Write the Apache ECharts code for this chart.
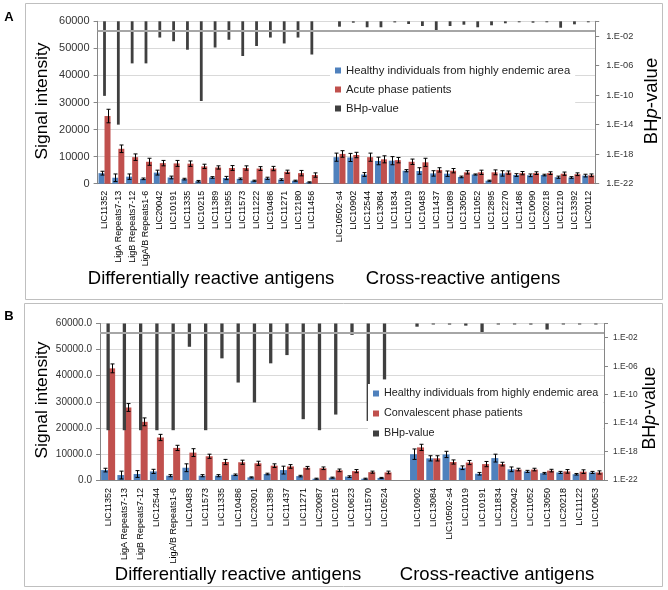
<!DOCTYPE html>
<html><head><meta charset="utf-8">
<script src="https://cdn.jsdelivr.net/npm/echarts@6/dist/echarts.min.js"></script>
<style>html,body{margin:0;padding:0;background:#fff}#c{width:668px;height:590px}</style>
</head><body><div id="c"></div>
<script>
// ---------- Panel A data ----------
const aCategories = ['LIC11352','LigA Repeats7-13','LigB Repeats7-12','LigA/B Repeats1-6','LIC20042','LIC10191','LIC11335','LIC10215','LIC11389','LIC11955','LIC11573','LIC11222','LIC10486','LIC11271','LIC12180','LIC11456','',
  'LIC10502-s4','LIC10902','LIC12544','LIC13084','LIC11834','LIC11019','LIC10483','LIC11437','LIC11089','LIC13050','LIC11052','LIC12895','LIC12270','LIC11486','LIC10090','LIC20218','LIC11210','LIC13392','LIC20112'];
const aHealthy    = [3900,2200,2600,1800,4100,2300,1700,900,2300,2100,1800,1100,2000,1500,1100,500,null,9800,9700,3400,8400,8500,4800,4700,3800,3700,2500,3400,1100,3800,3200,3100,3200,2400,2300,3000];
const aHealthyErr = [700,1400,1000,300,900,500,300,300,300,600,300,200,400,300,200,200,null,1500,1500,700,1400,1500,400,1200,1000,1000,300,200,200,1000,500,500,300,400,300,500];
const aAcute      = [25000,12900,9800,8100,7600,7500,7400,6400,6000,5800,5800,5600,5600,4400,3900,3200,null,11000,10600,9800,9000,8700,8100,7900,5100,4800,4200,4200,4200,4100,3900,3900,3900,3700,3500,3100];
const aAcuteErr   = [2500,1400,1200,1300,1000,1100,1000,800,600,900,800,700,800,600,1000,800,null,1200,1000,1500,1300,1000,1000,1500,800,800,600,800,900,600,600,500,500,600,500,500];
// log10 of BH p-value
const aBhpExp     = [-10.1,-14.0,-5.7,-5.7,-2.2,-2.7,-3.85,-10.8,-3.55,-2.5,-4.7,-3.35,-2.2,-3.0,-2.2,-4.5,null,-0.73,-0.19,-0.81,-0.81,-0.15,-0.37,-0.64,-1.18,-0.64,-0.46,-0.81,-0.54,-0.27,-0.12,-0.19,-0.1,-0.87,-0.41,-0.12];

// ---------- Panel B data ----------
const bCategories = ['LIC11352','LigA Repeats7-13','LigB Repeats7-12','LIC12544','LigA/B Repeats1-6','LIC10483','LIC11573','LIC11335','LIC10486','LIC20301','LIC11389','LIC11437','LIC11271','LIC20087','LIC10215','LIC10623','LIC11570','LIC10524','',
  'LIC10902','LIC13084','LIC10502-s4','LIC11019','LIC10191','LIC11834','LIC20042','LIC11052','LIC13050','LIC20218','LIC11122','LIC10053'];
const bHealthy    = [3800,1900,2300,3300,1650,4700,1650,1650,2000,1000,2300,3800,1500,500,900,1300,500,800,null,9900,8300,9800,4700,2400,8400,4100,3300,2600,2900,2200,2900];
const bHealthyErr = [700,1500,1300,800,400,1500,400,400,300,200,300,1500,300,200,200,300,200,200,null,2000,1000,1200,700,500,1500,900,400,300,400,300,400];
const bConv       = [42800,27800,22300,16300,12300,10500,9100,6900,6800,6400,5500,5200,4700,4500,3700,3400,3000,2900,null,12500,8300,6900,6700,6100,6100,4000,4000,3600,3300,3200,2900];
const bConvErr    = [1700,1500,1500,1200,1000,1500,800,1000,800,800,700,700,500,500,500,600,400,500,null,1200,1000,800,800,1000,700,500,500,500,700,700,600];
const bBhpExp     = [-15,-15,-15,-15,-15,-3.27,-15,-4.9,-8.3,-11.1,-5.6,-4.44,-13.45,-15,-12.8,-1.6,-13.7,-7.86,null,-0.45,-0.02,-0.15,-0.3,-1.4,-0.02,-0.12,-0.15,-0.85,-0.02,-0.12,-0.12];

const signalTicks = [0,10000,20000,30000,40000,50000,60000];
const pThreshold = 0.05;

const FONT = 'Liberation Sans, Arial, sans-serif';
const BLUE = '#4f81bd', RED = '#c0504d', DARK = '#3f3f3f', AXIS = '#868686', GRID = '#d9d9d9';
const NAME_H = 'Healthy individuals from highly endemic area';

function expLabel(v){
  if (Math.abs(v) < 1e-9) return '';
  const e = Math.round(v);
  const s = e < 0 ? '-' : '+';
  const a = Math.abs(e);
  return '1.E' + s + (a < 10 ? '0' + a : a);
}

function errSeries(vals, errs, xi, yi, off){
  return {
    type:'custom', xAxisIndex:xi, yAxisIndex:yi, z:5, silent:true,
    data: vals.map((v,i)=>[i, v, errs[i]]).filter(d=>d[1]!=null),
    encode:{x:0, y:1},
    renderItem(params, api){
      const i = api.value(0), v = api.value(1), e = api.value(2);
      const hi = api.coord([i, v+e]), lo = api.coord([i, Math.max(0, v-e)]);
      const x = Math.round(hi[0] + off) + 0.5;
      const cap = 2;
      const st = {stroke:'#000', lineWidth:1};
      return {type:'group', children:[
        {type:'line', shape:{x1:x, y1:hi[1], x2:x, y2:lo[1]}, style:st},
        {type:'line', shape:{x1:x-cap, y1:hi[1], x2:x+cap, y2:hi[1]}, style:st},
        {type:'line', shape:{x1:x-cap, y1:lo[1], x2:x+cap, y2:lo[1]}, style:st}
      ]};
    }
  };
}

function pSeries(exps, xi, yi, w){
  return {
    type:'custom', name:'BHp-value', xAxisIndex:xi, yAxisIndex:yi, z:4,
    itemStyle:{color:DARK},
    data: exps.map((v,i)=>[i, v]).filter(d=>d[1]!=null),
    encode:{x:0, y:1},
    renderItem(params, api){
      const i = api.value(0), v = api.value(1);
      const top = api.coord([i, 0]), bot = api.coord([i, v]);
      return {type:'rect', shape:{x: top[0]-w/2, y: top[1], width: w, height: Math.max(1, bot[1]-top[1])}, style:{fill:DARK}};
    },
    markLine:{
      silent:true, symbol:'none', label:{show:false},
      lineStyle:{color:'#a6a6a6', width:2, type:'solid'},
      data:[{yAxis: Math.log10(pThreshold)}]
    }
  };
}

function catAxis(gi, data, margin){
  return {type:'category', gridIndex:gi, data:data,
    axisLine:{lineStyle:{color:AXIS}}, axisTick:{length:4, lineStyle:{color:AXIS}},
    axisLabel:{interval:0, rotate:90, fontSize:9, margin:margin, color:'#000', fontFamily:FONT}};
}
function sigAxis(gi, fmt, fs){
  return {type:'value', gridIndex:gi, min:signalTicks[0], max:signalTicks[signalTicks.length-1], interval:signalTicks[1]-signalTicks[0],
    axisLine:{show:true, lineStyle:{color:AXIS}}, axisTick:{show:true, length:4, lineStyle:{color:AXIS}},
    splitLine:{lineStyle:{color:GRID}},
    axisLabel:{formatter:fmt, fontSize:fs, margin:8, color:'#333', fontFamily:FONT}};
}
function pAxis(gi, fs, margin){
  return {type:'value', gridIndex:gi, position:'right', min:-22, max:0, interval:4,
    axisLine:{show:true, lineStyle:{color:AXIS}}, axisTick:{show:true, length:4, lineStyle:{color:AXIS}},
    splitLine:{show:false},
    axisLabel:{formatter:expLabel, fontSize:fs, margin:margin, color:'#333', fontFamily:FONT}};
}

function legend(left, top, names, fs, gap){
  return {orient:'vertical', left:left, top:top, itemWidth:6, itemHeight:6, itemGap:gap, icon:'rect',
    backgroundColor:'#fff', padding:[3,5], z:10,
    textStyle:{fontSize:fs, lineHeight:13, color:'#222', fontFamily:FONT},
    data:[{name:names[0], itemStyle:{color:BLUE}},{name:names[1], itemStyle:{color:RED}},{name:names[2], itemStyle:{color:DARK}}]};
}

function txt(x, y, text, size, rot, extra){
  return Object.assign({type:'text', x:x, y:y, rotation:rot||0, silent:true,
    style:{text:text, fontSize:size, fontFamily:FONT, fill:'#000', align:'center', verticalAlign:'middle', textAlign:'center', textVerticalAlign:'middle'}}, extra||{});
}
function bhpTitle(x, y, size){
  return {type:'text', x:x, y:y, rotation:Math.PI/2, silent:true,
    style:{text:'{a|BH}{b|p}{a|-value}', rich:{a:{fontSize:size, fontFamily:FONT, fill:'#000'}, b:{fontSize:size, fontFamily:FONT, fontStyle:'italic', fill:'#000'}},
      align:'center', verticalAlign:'middle', textAlign:'center', textVerticalAlign:'middle'}};
}

const option = {
  animation:false,
  backgroundColor:'#fff',
  grid:[{left:97.6, top:21.3, width:497.6, height:162.4},{left:100, top:323.5, width:504, height:156.5}],
  xAxis:[catAxis(0, aCategories, 7), catAxis(1, bCategories, 8)],
  yAxis:[sigAxis(0, v=>String(v), 11), pAxis(0, 9.2, 11), sigAxis(1, v=>v.toFixed(1), 10), pAxis(1, 8.4, 9)],
  legend:[legend(330, 61, [NAME_H,'Acute phase patients','BHp-value'], 11.3, 6),
          legend(368, 384, [NAME_H,'Convalescent phase patients','BHp-value'], 10.8, 7)],
  series:[
    {type:'bar', name:NAME_H, xAxisIndex:0, yAxisIndex:0, data:aHealthy, barWidth:6, barGap:'0%', itemStyle:{color:BLUE}},
    {type:'bar', name:'Acute phase patients', xAxisIndex:0, yAxisIndex:0, data:aAcute, barWidth:6, barGap:'0%', itemStyle:{color:RED}},
    pSeries(aBhpExp, 0, 1, 2.8),
    errSeries(aHealthy, aHealthyErr, 0, 0, -3),
    errSeries(aAcute, aAcuteErr, 0, 0, 3),
    {type:'bar', name:NAME_H, xAxisIndex:1, yAxisIndex:2, data:bHealthy, barWidth:7, barGap:'0%', itemStyle:{color:BLUE}},
    {type:'bar', name:'Convalescent phase patients', xAxisIndex:1, yAxisIndex:2, data:bConv, barWidth:7, barGap:'0%', itemStyle:{color:RED}},
    pSeries(bBhpExp, 1, 3, 3.3),
    errSeries(bHealthy, bHealthyErr, 1, 2, -3.5),
    errSeries(bConv, bConvErr, 1, 2, 3.5)
  ],
  graphic:[
    {type:'rect', silent:true, shape:{x:25.5, y:3.5, width:637, height:296}, style:{fill:'none', stroke:'#bfbfbf', lineWidth:1}},
    {type:'rect', silent:true, shape:{x:24.5, y:303.5, width:638, height:283}, style:{fill:'none', stroke:'#bfbfbf', lineWidth:1}},
    txt(9, 17, 'A', 13, 0, {style:{text:'A', fontSize:13, fontWeight:'bold', fontFamily:FONT, fill:'#000', align:'center', verticalAlign:'middle', textAlign:'center', textVerticalAlign:'middle'}}),
    txt(9, 316, 'B', 13, 0, {style:{text:'B', fontSize:13, fontWeight:'bold', fontFamily:FONT, fill:'#000', align:'center', verticalAlign:'middle', textAlign:'center', textVerticalAlign:'middle'}}),
    txt(42, 101, 'Signal intensity', 17.4, Math.PI/2),
    txt(42, 400, 'Signal intensity', 17.4, Math.PI/2),
    bhpTitle(652, 101, 18.5),
    bhpTitle(650, 408, 17.8),
    txt(211, 279, 'Differentially reactive antigens', 18.5),
    txt(463, 279, 'Cross-reactive antigens', 18.5),
    txt(238, 575, 'Differentially reactive antigens', 18.5),
    txt(497, 575, 'Cross-reactive antigens', 18.5)
  ]
};

const chart = echarts.init(document.getElementById('c'), null, {renderer:'canvas'});
chart.setOption(option);
</script>
</body></html>
